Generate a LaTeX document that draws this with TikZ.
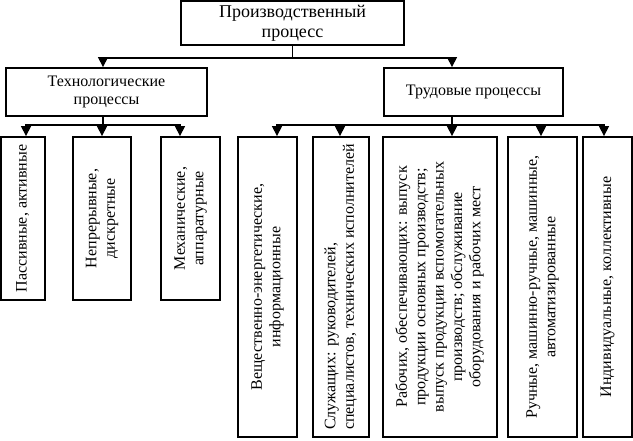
\documentclass[tikz,border=0pt]{standalone}
\usepackage{fontspec}
\setmainfont{Liberation Serif}
\usepackage{graphicx}
\usetikzlibrary{arrows.meta}

\newcommand{\vlabel}[2][c]{\rotatebox{90}{\begin{tabular}{@{}#1@{}}#2\end{tabular}}}

\tikzset{
  box/.style={draw, line width=1.8pt, inner sep=0pt, align=center, font=\fontsize{16}{18.4}\selectfont},
  link/.style={line width=1.3pt},
  arr/.style={link, -{Triangle[width=10pt,length=10pt]}}
}

\begin{document}
\begin{tikzpicture}[x=1pt,y=1pt]
\useasboundingbox (0,0) rectangle (633,440);

\node[box, minimum width=223pt, minimum height=44pt, font=\fontsize{18}{20}\selectfont] (prod) at (292.5,417) {Производственный\\процесс};
\node[box, minimum width=201pt, minimum height=48pt] (tech) at (106.5,348) {Технологические\\процессы};
\node[box, minimum width=179pt, minimum height=48pt] (trud) at (473.5,348) {Трудовые процессы};

\node[box, minimum width=44pt, minimum height=163pt] (passive)    at (23,221.5)    {\vlabel{Пассивные, активные}};
\node[box, minimum width=58pt, minimum height=163pt] (continuous) at (102,221.5)   {\vlabel{Непрерывные,\\дискретные}};
\node[box, minimum width=59pt, minimum height=163pt] (mech)       at (190.5,221.5) {\vlabel{Механические,\\аппаратурные}};

\node[box, minimum width=59pt,  minimum height=300pt] (matter)  at (267.5,153) {\vlabel{Вещественно-энергетические,\\информационные}};
\node[box, minimum width=56pt,  minimum height=300pt] (staff)   at (341,153)   {\vlabel[l]{Служащих: руководителей,\\специалистов, технических исполнителей}};
\node[box, minimum width=114pt, minimum height=300pt] (workers) at (440,153)   {\vlabel{Рабочих, обеспечивающих: выпуск\\продукции основных производств;\\выпуск продукции вспомогательных\\производств; обслуживание\\оборудования и рабочих мест}};
\node[box, minimum width=69pt,  minimum height=300pt] (manual)  at (542.5,153) {\vlabel{Ручные, машинно-ручные, машинные,\\автоматизированные}};
\node[box, minimum width=49pt,  minimum height=300pt] (single)  at (607.5,153) {\vlabel{Индивидуальные, коллективные}};

\draw[link] (prod.south) -- ++(0,-12) coordinate (prodbus);
\draw[arr] (prodbus) -| ([xshift=-3.5pt]tech.north);
\draw[arr] (prodbus) -| ([xshift=-21.5pt]trud.north);

\draw[link] ([xshift=-3.5pt]tech.south) -- ++(0,-8) coordinate (techbus);
\draw[arr] (techbus) -| ([xshift=3pt]passive.north);
\draw[arr] (techbus) -| (continuous.north);
\draw[arr] (techbus) -| ([xshift=-10.5pt]mech.north);

\draw[link] ([xshift=-21.5pt]trud.south) -- ++(0,-8) coordinate (trudbus);
\draw[arr] (trudbus) -| ([xshift=9.5pt]matter.north);
\draw[arr] (trudbus) -| ([xshift=-1pt]staff.north);
\draw[arr] (trudbus) -| ([xshift=12pt]workers.north);
\draw[arr] (trudbus) -| ([xshift=-1.5pt]manual.north);
\draw[arr] (trudbus) -| ([xshift=-3.5pt]single.north);

\end{tikzpicture}
\end{document}
